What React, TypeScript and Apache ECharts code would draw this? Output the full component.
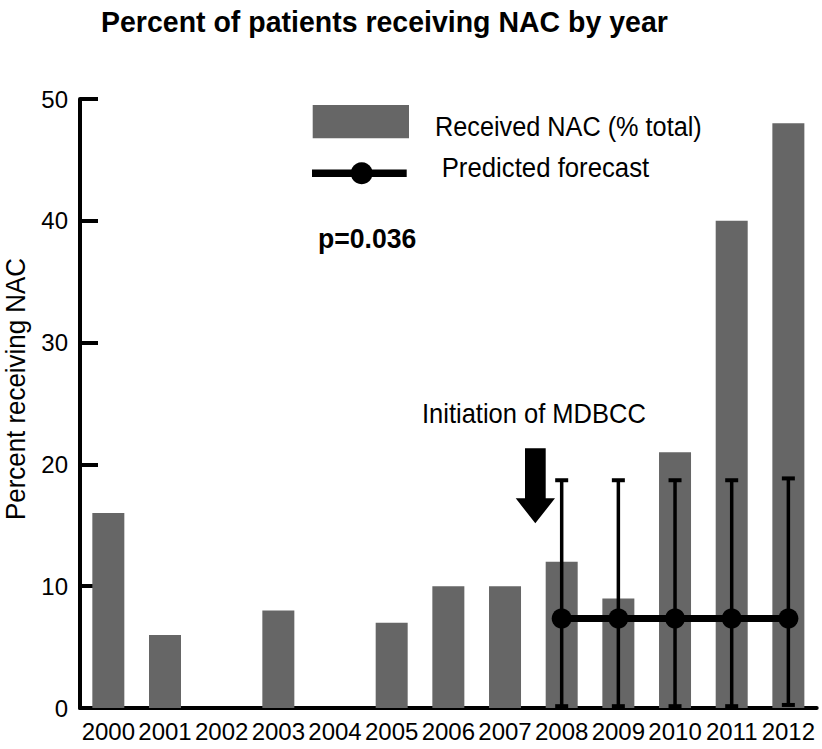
import React, { useEffect, useRef } from "react";
import * as echarts from "echarts";

const years = ["2000", "2001", "2002", "2003", "2004", "2005", "2006", "2007", "2008", "2009", "2010", "2011", "2012"];
const receivedNAC = [16, 6, 0, 8, 0, 7, 10, 10, 12, 9, 21, 40, 48];
const forecastYears = ["2008", "2009", "2010", "2011", "2012"];
const forecastValues = [7.35, 7.35, 7.35, 7.35, 7.35];
const forecastLow = [0.15, 0.15, 0.15, 0.15, 0.25];
const forecastHigh = [18.7, 18.7, 18.7, 18.7, 18.85];
const yTicks = { min: 0, max: 50, interval: 10 };

const FONT = "'Liberation Sans', Arial, sans-serif";

export default function App() {
  const ref = useRef<HTMLDivElement>(null);
  useEffect(() => {
    if (!ref.current) return;
    const chart = echarts.init(ref.current, null, { renderer: "svg" });
    const forecastLine = years.map((y) => {
      const i = forecastYears.indexOf(y);
      return i >= 0 ? forecastValues[i] : null;
    });
    const errData = forecastYears.map((y, i) => [years.indexOf(y), forecastLow[i], forecastHigh[i]]);

    const txt = (text: string, x: number, y: number, sx: number, bold = false, size = 28, extra: any = {}) => ({
      type: "text",
      x,
      y,
      scaleX: sx,
      ...extra,
      style: {
        text,
        font: `${bold ? "bold " : ""}${size}px ${FONT}`,
        fill: "#000",
        verticalAlign: "middle",
        align: extra.align || "left",
      },
    });

    chart.setOption({
      animation: false,
      backgroundColor: "#ffffff",
      textStyle: { fontFamily: FONT },
      grid: { left: 80, right: 5.3, top: 99, bottom: 41, containLabel: false },
      xAxis: {
        type: "category",
        data: years,
        boundaryGap: true,
        axisLine: { lineStyle: { color: "#000", width: 4 } },
        axisTick: { inside: true, length: 15, lineStyle: { color: "#000", width: 4 }, interval: 0 },
        axisLabel: { color: "#000", fontSize: 24, fontFamily: FONT, margin: 11, interval: 0 },
        splitLine: { show: false },
      },
      yAxis: {
        type: "value",
        min: yTicks.min,
        max: yTicks.max,
        interval: yTicks.interval,
        axisLine: { show: true, lineStyle: { color: "#000", width: 4 } },
        axisTick: { show: true, inside: true, length: 18, lineStyle: { color: "#000", width: 4 } },
        axisLabel: { color: "#000", fontSize: 24, fontFamily: FONT, margin: 12, padding: [8, 0, 0, 0] },
        splitLine: { show: false },
      },
      series: [
        {
          name: "Received NAC (% total)",
          type: "bar",
          data: receivedNAC,
          barWidth: 32,
          itemStyle: { color: "#666666" },
          z: 1,
        },
        {
          name: "Predicted forecast error",
          type: "custom",
          data: errData,
          z: 3,
          renderItem: (params: any, api: any) => {
            const x = api.value(0);
            const top = api.coord([x, api.value(2)]);
            const bot = api.coord([x, api.value(1)]);
            const cap = 6.5;
            const style = { stroke: "#000", lineWidth: 3.5 };
            return {
              type: "group",
              children: [
                { type: "line", shape: { x1: top[0], y1: top[1], x2: bot[0], y2: bot[1] }, style },
                { type: "line", shape: { x1: top[0] - cap, y1: top[1], x2: top[0] + cap, y2: top[1] }, style: { stroke: "#000", lineWidth: 4 } },
                { type: "line", shape: { x1: bot[0] - cap, y1: bot[1], x2: bot[0] + cap, y2: bot[1] }, style: { stroke: "#000", lineWidth: 4 } },
              ],
            };
          },
        },
        {
          name: "Predicted forecast",
          type: "line",
          data: forecastLine,
          symbol: "circle",
          symbolSize: 20,
          lineStyle: { color: "#000", width: 7 },
          itemStyle: { color: "#000" },
          z: 4,
        },
      ],
      graphic: [
        txt("Percent of patients receiving NAC by year", 101, 21.5, 0.95, true, 30),
        { type: "rect", shape: { x: 312.7, y: 105, width: 96.3, height: 33.3 }, style: { fill: "#666666" } },
        txt("Received NAC (% total)", 435, 127, 0.903),
        { type: "line", shape: { x1: 312, y1: 173.3, x2: 406.7, y2: 173.3 }, style: { stroke: "#000", lineWidth: 7.5 } },
        { type: "circle", shape: { cx: 361.7, cy: 173.3, r: 11 }, style: { fill: "#000" } },
        txt("Predicted forecast", 441.7, 168, 0.92),
        txt("p=0.036", 318, 238, 0.95, true),
        txt("Initiation of MDBCC", 422, 413.5, 0.911),
        {
          type: "polygon",
          shape: {
            points: [
              [525, 448.3],
              [545.7, 448.3],
              [545.7, 498.3],
              [555, 498.3],
              [535.3, 523.3],
              [515.7, 498.3],
              [525, 498.3],
            ],
          },
          style: { fill: "#000" },
        },
        txt("Percent receiving NAC", 16, 389, 0.925, false, 28, { rotation: Math.PI / 2, align: "center" }),
      ],
    });
    return () => chart.dispose();
  }, []);
  return <div ref={ref} style={{ position: "fixed", left: 0, top: 0, width: 822, height: 749 }} />;
}
